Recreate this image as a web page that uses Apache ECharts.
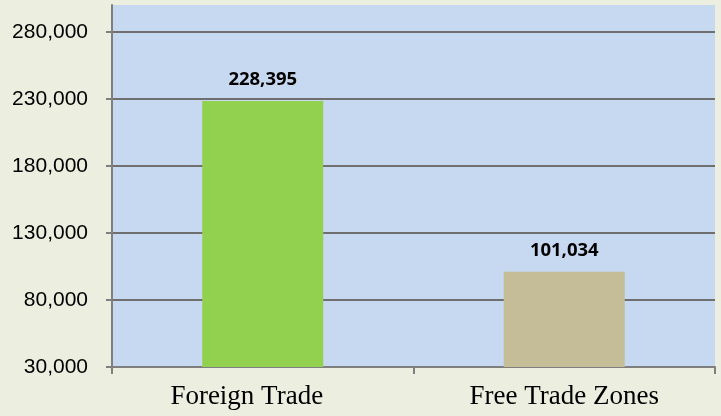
<!DOCTYPE html>
<html>
<head>
<meta charset="utf-8">
<script src="https://cdn.jsdelivr.net/npm/echarts@6/dist/echarts.min.js"></script>
<style>
  html, body { margin: 0; padding: 0; background: #ecefdf; }
  #main { width: 721px; height: 416px; }
</style>
</head>
<body>
<div id="main"></div>
<script>
// data
var categories = ['Foreign Trade', 'Free Trade Zones'];
var values = [228395, 101034];
var barColors = ['#92d050', '#c4bd97'];
var yTicks = [30000, 80000, 130000, 180000, 230000, 280000];

function fmt(v) {
    return String(v).replace(/\B(?=(\d{3})+(?!\d))/g, ',');
}

var chart = echarts.init(document.getElementById('main'));
var option = {
    backgroundColor: '#ecefdf',
    animation: false,
    grid: {
        left: 112, right: 6, top: 5, bottom: 49,
        show: true,
        backgroundColor: '#c6d9f0',
        borderWidth: 0
    },
    xAxis: {
        type: 'category',
        // first label sits a little left of its category centre in the original
        data: [
            { value: categories[0], textStyle: { padding: [0, 32, 0, 0] } },
            categories[1]
        ],
        axisLine: { lineStyle: { color: '#7f7f7f', width: 2 } },
        axisTick: { show: true, length: 7, lineStyle: { color: '#7f7f7f', width: 2 } },
        axisLabel: {
            margin: 16,
            fontFamily: '"Liberation Serif", "Times New Roman", serif',
            fontSize: 27,
            color: '#000'
        }
    },
    yAxis: {
        type: 'value',
        min: 30000,
        max: 300000,
        axisLine: { show: true, lineStyle: { color: '#7f7f7f', width: 2 } },
        axisTick: { show: true, length: 6, customValues: yTicks, lineStyle: { color: '#7f7f7f', width: 2 } },
        axisLabel: {
            customValues: yTicks,
            margin: 24,
            fontFamily: '"Liberation Sans", Arial, sans-serif',
            fontSize: 21,
            color: '#000',
            formatter: function (v) { return fmt(v); }
        },
        splitLine: { show: true, lineStyle: { color: '#6f6f6f', width: 2 } }
    },
    series: [{
        type: 'bar',
        barWidth: 121,
        data: values.map(function (v, i) {
            return { value: v, itemStyle: { color: barColors[i] } };
        }),
        label: {
            show: true,
            position: 'top',
            distance: 12,
            fontFamily: '"Open Sans", sans-serif',
            fontWeight: 'bold',
            fontSize: 18.5,
            color: '#000',
            formatter: function (p) { return fmt(p.value); }
        }
    }]
};
chart.setOption(option);
</script>
</body>
</html>
